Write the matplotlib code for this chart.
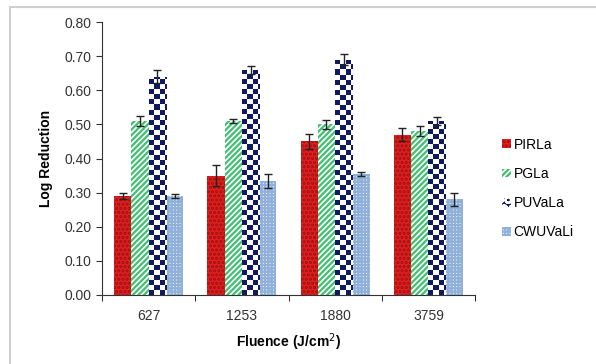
import matplotlib.pyplot as plt
import numpy as np
from matplotlib.patches import Rectangle

fluence = ["627", "1253", "1880", "3759"]
series = ["PIRLa", "PGLa", "PUVaLa", "CWUVaLi"]
values = [
    [0.29, 0.35, 0.45, 0.47],
    [0.51, 0.51, 0.50, 0.48],
    [0.64, 0.66, 0.69, 0.51],
    [0.29, 0.335, 0.355, 0.28],
]
errors = [
    [0.010, 0.030, 0.022, 0.018],
    [0.015, 0.005, 0.013, 0.015],
    [0.020, 0.012, 0.015, 0.012],
    [0.005, 0.020, 0.005, 0.018],
]

faces = ["#e02020", "white", "#101860", "white"]
edges = ["#a01010", "#40c070", "white", "#8fb0d8"]
hatches = ["....", "//////", "OO", "+++++"]

plt.rcParams["font.family"] = "Liberation Sans"
plt.rcParams["hatch.linewidth"] = 1.6

fig = plt.figure(figsize=(5.96, 3.64), dpi=100)
fig.patches.append(Rectangle((10 / 596, -0.1), 1.2, 1 - 7 / 364 + 0.1,
                             transform=fig.transFigure, fill=False,
                             edgecolor="#d0d0d0", linewidth=1.5))
ax = fig.add_axes([102 / 596, 1 - 295 / 364, 373 / 596, 273 / 364])

x = np.arange(len(fluence))
w = 0.185
bars = []
for i, name in enumerate(series):
    b = ax.bar(x + (i - 1.5) * w, values[i], w, label=name,
               color=faces[i], edgecolor=edges[i], hatch=hatches[i], linewidth=0)
    bars.append(b)

# checkerboard fill for PUVaLa bars
checker = plt.matplotlib.colors.ListedColormap(["#101860", "white"])
cell_x = w / 3.4
cell_y = 0.8 / 273 * 5
for rect in bars[2]:
    x0, h, bw = rect.get_x(), rect.get_height(), rect.get_width()
    nx = int(np.ceil(bw / cell_x))
    ny = int(np.ceil(h / cell_y))
    board = (np.add.outer(np.arange(ny), np.arange(nx)) % 2).astype(float)
    im = ax.imshow(board, cmap=checker, vmin=0, vmax=1, origin="lower",
                   extent=(x0, x0 + nx * cell_x, 0, ny * cell_y),
                   aspect="auto", interpolation="nearest", zorder=1.5)
    im.set_clip_path(rect)

for i in range(len(series)):
    ax.errorbar(x + (i - 1.5) * w, values[i], yerr=errors[i], fmt="none",
                ecolor="#222222", elinewidth=1, capsize=3, capthick=1, zorder=3)

ax.set_xlim(-0.5, len(fluence) - 0.5)
ax.set_ylim(0, 0.8)
ax.set_yticks(np.arange(0, 0.81, 0.1))
ax.set_yticklabels([f"{v:.2f}" for v in np.arange(0, 0.81, 0.1)])
ax.set_xticks(x)
ax.set_xticklabels(fluence)
ax.set_xticks(np.arange(-0.5, len(fluence), 1), minor=True)
ax.tick_params(axis="x", which="major", length=0, pad=10, labelsize=10, colors="#333333")
ax.tick_params(axis="x", which="minor", length=4, direction="out")
ax.tick_params(axis="y", length=4, direction="out", labelsize=10, colors="#333333")
for s in ["top", "right"]:
    ax.spines[s].set_visible(False)
for s in ["left", "bottom"]:
    ax.spines[s].set_color("#333333")
ax.set_xlabel("Fluence (J/cm$^2$)", fontweight="bold", fontsize=10, labelpad=6)
ax.set_ylabel("Log Reduction", fontweight="bold", fontsize=10, labelpad=8)

ax.legend(loc="center left", bbox_to_anchor=(1.04, 0.39), frameon=False,
          handlelength=0.6, handleheight=0.6, handletextpad=0.2,
          labelspacing=1.1, fontsize=10)

fig.savefig("out.png", dpi=100)
